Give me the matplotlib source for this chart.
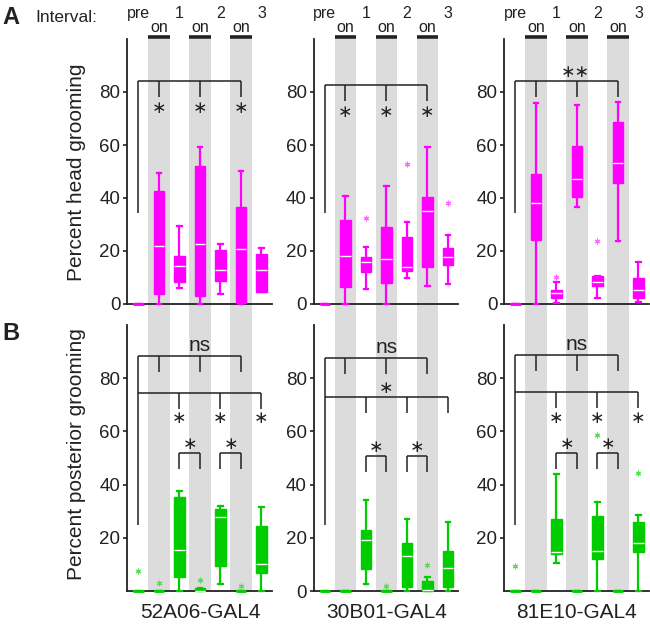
import matplotlib
matplotlib.use('Agg')
import matplotlib.pyplot as plt
from matplotlib.patches import Rectangle

plt.rcParams['font.family'] = ['Liberation Sans', 'DejaVu Sans']

# ---------------- data ----------------
lines = ['52A06-GAL4', '30B01-GAL4', '81E10-GAL4']
positions = [1, 2, 3, 4, 5, 6, 7]
top_labels = ['pre', '1', '2', '3']
top_label_pos = [1, 3, 5, 7]
on_pos = [2, 4, 6]

# Row A: percent head grooming (box statistics per interval)
head_52A06_q1 = [0, 3.7, 8.2, 3.2, 8.5, 0.4, 4.6]
head_52A06_med = [0, 22.0, 14.2, 22.5, 12.8, 20.6, 12.8]
head_52A06_q3 = [0, 42.6, 18.0, 52.2, 20.4, 36.7, 18.9]
head_52A06_lo = [0, 0, 6.2, 0, 3.8, 0, 4.5]
head_52A06_hi = [0, 49.5, 29.5, 59.4, 22.8, 50.2, 21.0]
head_52A06_out = []

head_30B01_q1 = [0, 6.5, 12.2, 8.0, 12.5, 14.1, 14.7]
head_30B01_med = [0, 18.1, 16.0, 17.1, 14.1, 35.2, 17.6]
head_30B01_q3 = [0, 31.7, 17.9, 29.2, 25.2, 40.5, 21.0]
head_30B01_lo = [0, 0, 5.7, 0, 9.7, 6.9, 7.4]
head_30B01_hi = [0, 40.8, 21.6, 44.5, 30.9, 59.4, 26.0]
head_30B01_out = [(3, 32.3), (5, 53.0), (7, 38.0)]

head_81E10_q1 = [0, 24.2, 2.4, 40.3, 6.8, 45.5, 2.4]
head_81E10_med = [0, 38.0, 4.0, 47.0, 8.4, 53.3, 5.3]
head_81E10_q3 = [0, 48.9, 5.3, 59.6, 10.6, 68.7, 9.9]
head_81E10_lo = [0, 0, 0.5, 36.5, 2.4, 23.9, 0.9]
head_81E10_hi = [0, 75.7, 8.4, 75.1, 10.6, 76.3, 16.0]
head_81E10_out = [(3, 10.3), (5, 23.9)]

# Row B: percent posterior grooming
post_52A06_q1 = [0, 0, 5.4, 0, 9.4, 0, 6.7]
post_52A06_med = [0, 0, 15.5, 0, 27.8, 0, 10.0]
post_52A06_q3 = [0, 0, 35.2, 1.0, 30.8, 0, 24.3]
post_52A06_lo = [0, 0, 0, 0, 2.6, 0, 0]
post_52A06_hi = [0, 0, 37.5, 1.0, 32.0, 0, 31.4]
post_52A06_out = [(1, 7.7), (2, 3.1), (4, 4.2), (6, 1.9)]

post_30B01_q1 = [0, 0, 8.3, 0, 1.4, 0, 1.6]
post_30B01_med = [0, 0, 19.2, 0, 13.2, 0.3, 8.6]
post_30B01_q3 = [0, 0, 22.8, 0, 18.2, 3.8, 15.2]
post_30B01_lo = [0, 0, 2.6, 0, 0, 0, 0]
post_30B01_hi = [0, 0, 34.1, 0, 27.2, 5.4, 25.8]
post_30B01_out = [(4, 1.9), (6, 9.8)]

post_81E10_q1 = [0, 0, 14.0, 0, 12.0, 0, 14.8]
post_81E10_med = [0, 0, 14.8, 0, 15.2, 0, 18.2]
post_81E10_q3 = [0, 0, 27.2, 0, 28.3, 0, 25.9]
post_81E10_lo = [0, 0, 10.4, 0, 0, 0, 0]
post_81E10_hi = [0, 0, 44.0, 0, 33.6, 0, 28.7]
post_81E10_out = [(1, 9.4), (5, 58.5), (7, 44.4)]

yticks_all = [0, 20, 40, 60, 80]
yticks_nozero = [20, 40, 60, 80]

# ---------------- styling ----------------
MAGENTA = '#FF00FF'
MAGENTA_LIGHT = '#FF66FF'
GREEN = '#00CC00'
GREEN_LIGHT = '#55DD55'
BAND = '#DCDCDC'
BLK = '#222222'

W, H = 650, 625
fig = plt.figure(figsize=(W / 100, H / 100), dpi=100)


def px_ax(left, top, bottom, width):
    return [left / W, 1 - bottom / H, width / W, (bottom - top) / H]


lefts = [127.2, 313.7, 504.2]
axw = 144.5
axA = [fig.add_axes(px_ax(l, 39, 304, axw)) for l in lefts]
axB = [fig.add_axes(px_ax(l, 325, 591, axw)) for l in lefts]

XLIM = (0.45, 7.5)


def make_stats(q1, med, q3, lo, hi):
    return [dict(q1=a, med=b, q3=c, whislo=d, whishi=e, fliers=[])
            for a, b, c, d, e in zip(q1, med, q3, lo, hi)]


def draw_box(ax, q1, med, q3, lo, hi, out, color, light):
    stats = make_stats(q1, med, q3, lo, hi)
    res = ax.bxp(stats, positions=positions, widths=0.5, patch_artist=True,
                 showfliers=False,
                 boxprops=dict(facecolor=color, edgecolor=color, linewidth=1.0),
                 medianprops=dict(color='white', linewidth=1.0),
                 whiskerprops=dict(color=color, linewidth=1.6),
                 capprops=dict(color=color, linewidth=1.6),
                 capwidths=0.2, manage_ticks=False, zorder=3)
    for key in ['boxes', 'whiskers', 'caps', 'medians']:
        for art in res[key]:
            art.set_clip_on(False)
    # empty (all-zero) boxes: show as a solid coloured line
    for box, mline, a, c in zip(res['boxes'], res['medians'], q1, q3):
        if c - a < 0.5:
            mline.set_color(color)
            mline.set_linewidth(2.0)
            box.set_linewidth(1.6)
    if out:
        xs = [p for p, v in out]
        ys = [v for p, v in out]
        ax.plot(xs, ys, linestyle='none', marker=(6, 2, 0), markersize=4,
                markeredgecolor=light, markeredgewidth=0.8, zorder=5,
                clip_on=False)


def style_axes(ax, yticks):
    ax.set_xlim(*XLIM)
    ax.set_ylim(0, 100)
    ax.patch.set_visible(False)
    for s in ['top', 'right']:
        ax.spines[s].set_visible(False)
    for s in ['left', 'bottom']:
        ax.spines[s].set_linewidth(1.3)
        ax.spines[s].set_color(BLK)
        ax.spines[s].set_zorder(2)
    ax.set_xticks([])
    ax.set_yticks(yticks)
    ax.set_yticklabels([str(t) for t in yticks])
    ax.tick_params(axis='y', direction='out', length=3, width=1.2,
                   labelsize=13.5, pad=2, colors=BLK)


def star(ax, x, y, size=12.5):
    ax.text(x, y, '\u2217', ha='center', va='center', fontsize=size,
            color=BLK, family='DejaVu Sans', zorder=6)


def hline(ax, x0, x1, y):
    ax.plot([x0, x1], [y, y], color=BLK, lw=1.1, zorder=6, clip_on=False,
            solid_capstyle='butt')


def vline(ax, x, y0, y1):
    ax.plot([x, x], [y0, y1], color=BLK, lw=1.1, zorder=6, clip_on=False,
            solid_capstyle='butt')


head_sets = [
    (head_52A06_q1, head_52A06_med, head_52A06_q3, head_52A06_lo, head_52A06_hi, head_52A06_out),
    (head_30B01_q1, head_30B01_med, head_30B01_q3, head_30B01_lo, head_30B01_hi, head_30B01_out),
    (head_81E10_q1, head_81E10_med, head_81E10_q3, head_81E10_lo, head_81E10_hi, head_81E10_out),
]
post_sets = [
    (post_52A06_q1, post_52A06_med, post_52A06_q3, post_52A06_lo, post_52A06_hi, post_52A06_out),
    (post_30B01_q1, post_30B01_med, post_30B01_q3, post_30B01_lo, post_30B01_hi, post_30B01_out),
    (post_81E10_q1, post_81E10_med, post_81E10_q3, post_81E10_lo, post_81E10_hi, post_81E10_out),
]

# ---------------- row A ----------------
bracketA = [84.2, 82.6, 84.0]
for i, ax in enumerate(axA):
    style_axes(ax, yticks_all)
    tr = ax.get_xaxis_transform()
    # grey "on" bands spanning both rows
    for p in on_pos:
        ax.add_patch(Rectangle((p - 0.53, -1.083), 1.06, 2.083, transform=tr,
                               facecolor=BAND, edgecolor='none', zorder=0,
                               clip_on=False))
        ax.plot([p - 0.53, p + 0.53], [1.006, 1.006], transform=tr,
                color=BLK, lw=2.6, solid_capstyle='butt', clip_on=False)
        ax.text(p, 1.045, 'on', transform=tr, ha='center', va='center',
                fontsize=11.5, color=BLK)
    for p, lab in zip(top_label_pos, top_labels):
        ax.text(p, 1.098, lab, transform=tr, ha='center', va='center',
                fontsize=11.5, color=BLK)
    draw_box(ax, *head_sets[i], MAGENTA, MAGENTA_LIGHT)
    yb = bracketA[i]
    hline(ax, 1, 6, yb)
    vline(ax, 1, yb, 34.5)
    for p in on_pos:
        vline(ax, p, yb, yb - 6)
    if i < 2:
        for p in on_pos:
            star(ax, p, yb - 10.3)
    else:
        ax.text(3.9, 87.6, '\u2217\u2217', ha='center', va='center',
                fontsize=12.5, color=BLK, family='DejaVu Sans', zorder=6)

# ---------------- row B ----------------
for i, ax in enumerate(axB):
    style_axes(ax, yticks_all if i == 1 else yticks_nozero)
    draw_box(ax, *post_sets[i], GREEN, GREEN_LIGHT)
    ns_y = [88.4, 87.5, 88.8][i]
    st_y = [74.6, 73.0, 74.8][i]
    hline(ax, 1, 6, ns_y)
    for p in on_pos:
        vline(ax, p, ns_y, ns_y - 6)
    ax.text(4, ns_y + 4.0, 'ns', ha='center', va='center', fontsize=15,
            color=BLK)
    hline(ax, 1, 7, st_y)
    vline(ax, 1, ns_y, 25.0)
    for p in [3, 5, 7]:
        vline(ax, p, st_y, st_y - 6)
        if i != 1:
            star(ax, p, st_y - 9.6)
    if i == 1:
        star(ax, 4, st_y + 3.3)
    sb = [52.0, 50.7, 51.7][i]
    for a, b in [(3, 4), (5, 6)]:
        hline(ax, a, b, sb)
        vline(ax, a, sb, sb - 6)
        vline(ax, b, sb, sb - 6)
        star(ax, (a + b) / 2, sb + 3.4)
    ax.text(4, -0.079, lines[i], transform=ax.get_xaxis_transform(),
            ha='center', va='center', fontsize=15, color=BLK)

# ---------------- figure texts ----------------
fig.text(2 / W, 1 - 17 / H, 'A', fontsize=17, fontweight='bold',
         ha='left', va='center', color=BLK)
fig.text(2 / W, 1 - 334 / H, 'B', fontsize=17, fontweight='bold',
         ha='left', va='center', color=BLK)
fig.text(35 / W, 1 - 18 / H, 'Interval:', fontsize=12.5, ha='left',
         va='center', color=BLK)
fig.text(77 / W, 1 - 172 / H, 'Percent head grooming', rotation=90,
         fontsize=15, ha='center', va='center', color=BLK)
fig.text(77 / W, 1 - 454 / H, 'Percent posterior grooming', rotation=90,
         fontsize=15, ha='center', va='center', color=BLK)

fig.savefig('out.png', dpi=100)
